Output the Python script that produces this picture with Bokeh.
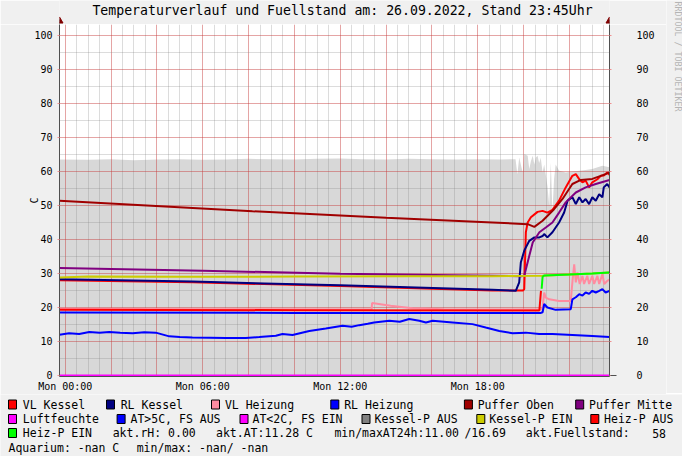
import math
from bokeh.plotting import figure
from bokeh.layouts import column, row
from bokeh.models import (Range1d, LinearAxis, SingleIntervalTicker, FixedTicker, Arrow, NormalHead)
from bokeh.core.properties import value
from bokeh.embed import file_html
from bokeh.resources import INLINE

FONT = "DejaVu Sans Mono"

title_text = "Temperaturverlauf und Fuellstand am: 26.09.2022, Stand 23:45Uhr"
x_tick_hours = [0, 6, 12, 18]
x_tick_labels = ["Mon 00:00", "Mon 06:00", "Mon 12:00", "Mon 18:00"]
y_axis_title = "C"
watermark = "RRDTOOL / TOBI OETIKER"

# time axis: hours since Mon 00:00
vl_kessel_t = [-0.25, 5.56, 12.0, 18.64, 19.98, 20.03, 20.10, 20.18, 20.32, 20.61, 20.83, 21.04, 21.26, 21.55,
               21.84, 22.13, 22.28, 22.45, 22.57, 22.71, 22.86, 23.0, 23.22, 23.37, 23.5, 23.65, 23.75]
vl_kessel = [28.0, 27.4, 26.3, 25.0, 25.0, 25.4, 42.1, 45.0, 46.5, 48.1, 48.4, 47.9, 48.7, 51.4,
             55.3, 58.7, 59.2, 57.5, 56.8, 57.3, 55.3, 56.8, 57.7, 58.7, 58.8, 59.7, 59.0]

rl_kessel_t = [-0.25, 5.56, 12.0, 18.64, 19.66, 19.81, 19.88, 20.03, 20.25, 20.47, 20.69, 20.83, 20.90, 21.04,
               21.26, 21.55, 21.77, 21.92, 22.13, 22.28, 22.43, 22.57, 22.71, 22.86, 23.0, 23.15, 23.30, 23.44,
               23.50, 23.65, 23.75]
rl_kessel = [28.3, 27.6, 26.5, 25.2, 24.9, 27.4, 33.2, 36.7, 39.6, 40.6, 40.6, 41.0, 41.6, 40.6,
             42.1, 45.0, 47.9, 51.4, 52.4, 50.4, 52.4, 50.9, 51.9, 50.4, 52.4, 51.4, 53.3, 52.4,
             55.3, 56.3, 55.3]

vl_heizung_t = [-0.25, 6.0, 13.37, 13.39, 14.2, 15.16, 16.5, 20.74, 20.83, 20.90, 20.97, 21.12, 21.55, 22.06,
                22.13, 22.21, 22.28, 22.35, 22.45, 22.57, 22.64, 22.78, 22.86, 23.0, 23.08, 23.22, 23.30, 23.44,
                23.52, 23.65, 23.75]
vl_heizung = [19.6, 19.5, 19.4, 21.3, 20.5, 19.8, 19.5, 19.4, 19.8, 24.4, 22.9, 22.4, 21.9, 21.9,
              27.4, 32.7, 27.4, 30.3, 26.9, 29.3, 26.9, 29.3, 26.9, 29.3, 26.9, 29.3, 26.9, 29.8,
              26.9, 27.8, 28.2]

rl_heizung_t = [-0.25, 10.0, 20.76, 20.83, 20.90, 21.04, 21.40, 22.06, 22.13, 22.28, 22.43, 22.57, 22.71, 22.86,
                23.0, 23.15, 23.30, 23.44, 23.58, 23.75]
rl_heizung = [18.5, 18.4, 18.4, 18.6, 21.0, 20.0, 19.3, 19.5, 22.4, 23.0, 23.9, 23.5, 24.4, 24.0,
              24.9, 24.4, 24.9, 25.4, 24.4, 24.9]

puffer_oben_t = [-0.25, 8.17, 14.0, 18.64, 20.18, 20.47, 20.83, 21.33, 21.70, 22.13, 22.50, 23.0, 23.58, 23.75]
puffer_oben = [51.4, 48.3, 46.4, 45.0, 44.5, 43.7, 45.5, 48.9, 51.9, 56.3, 57.5, 57.8, 59.2, 59.7]

puffer_mitte_t = [-0.25, 6.0, 12.0, 19.9, 20.03, 20.25, 20.40, 20.69, 20.97, 21.26, 21.55, 21.84, 22.28, 22.71,
                  23.15, 23.75]
puffer_mitte = [31.6, 30.8, 29.9, 29.2, 29.3, 35.2, 39.1, 42.1, 43.5, 45.0, 47.9, 50.9, 53.8, 55.3,
                56.3, 57.5]

luftfeuchte_t = [-0.25, 23.75]
luftfeuchte = [0.0, 0.0]

aussen_t = [-0.25, 0.17, 0.61, 1.05, 1.5, 1.92, 2.4, 2.94, 3.45, 3.95, 4.54, 5.0, 5.55, 6.3, 7.01, 7.88, 8.47,
            9.19, 9.48, 9.92, 10.65, 11.37, 12.10, 12.5, 12.83, 13.2, 13.48, 14.14, 14.6, 15.01, 15.45, 15.74,
            16.03, 16.90, 17.77, 18.35, 18.94, 19.52, 20.10, 20.68, 21.26, 22.13, 23.0, 23.75]
aussen = [12.0, 12.4, 12.2, 12.8, 12.6, 12.8, 12.6, 12.4, 12.7, 12.6, 11.5, 11.3, 11.2, 11.1, 11.0, 11.0, 11.3,
          11.7, 12.2, 11.9, 13.1, 13.8, 14.6, 14.3, 14.8, 15.2, 15.6, 16.1, 15.8, 16.6, 16.1, 15.6,
          16.1, 15.6, 15.1, 14.1, 13.1, 12.4, 12.6, 12.2, 12.2, 11.9, 11.6, 11.3]

kessel_aus_t = [-0.25, 1, 2, 3, 4, 5, 6, 7, 8, 9, 10, 11, 12, 13, 14, 15, 16, 17, 18, 19,
                19.65, 19.73, 19.81, 19.96, 20.03, 20.18, 20.25, 20.32, 20.40, 20.47, 20.53, 20.61, 20.68, 20.75,
                20.83, 20.90, 20.97, 21.04, 21.12, 21.19, 21.26, 21.33, 21.40, 21.55, 21.84, 22.13, 22.43, 22.71,
                23.0, 23.44, 23.75]
kessel_aus = [63.5, 63.4, 63.6, 63.3, 63.5, 63.6, 63.4, 63.5, 63.7, 63.6, 63.5, 63.7, 63.8, 63.6, 63.5, 63.7,
              63.6, 63.5, 63.6, 63.5,
              63.6, 59.2, 64.1, 59.7, 65.1, 64.6, 60.7, 63.0, 64.6, 62.0, 64.0, 64.6, 62.5, 64.0,
              59.7, 62.0, 59.0, 55.8, 49.9, 62.6, 47.9, 57.7, 62.0, 60.2, 59.7, 60.0, 60.2, 60.4,
              60.7, 61.7, 61.2]

kessel_ein_t = [-0.25, 1.0, 5.0, 10.0, 15.0, 18.64, 20.83, 22.0, 23.0, 23.75]
kessel_ein = [28.8, 29.1, 29.0, 29.1, 29.2, 29.2, 29.3, 29.7, 30.0, 30.3]

heiz_aus_t = [-0.25, 10.0, 20.69, 20.76]
heiz_aus = [19.3, 19.2, 19.1, 24.9]

heiz_ein_t = [20.79, 20.83, 20.90, 22.0, 23.0, 23.75]
heiz_ein = [25.5, 29.0, 29.4, 29.7, 30.0, 30.3]

legend_names = ["VL Kessel", "RL Kessel", "VL Heizung", "RL Heizung", "Puffer Oben", "Puffer Mitte",
                "Luftfeuchte", "AT>5C, FS AUS", "AT<2C, FS EIN", "Kessel-P AUS", "Kessel-P EIN", "Heiz-P AUS",
                "Heiz-P EIN"]
legend_colors = ["#ff0000", "#000080", "#ff8ca0", "#0000ff", "#a00000", "#800080",
                 "#ff00ff", "#0000ff", "#ff00ff", "#808080", "#cccc00", "#ff0000", "#00ff00"]
stats_texts = ["akt.rH: 0.00", "akt.AT:11.28 C", "min/maxAT24h:11.00", "/16.69", "akt.Fuellstand:", "58"]
aquarium_texts = ["Aquarium: -nan C", "min/max: -nan/ -nan"]

# ---------------- layout (page pixel positions) ----------------
X0, X1 = -0.25, 23.75
Y0, Y1 = -0.3, 103.2
FL, FT, FW, FH = 67, 32, 550, 352   # plot frame in page px
CHART_BOTTOM = 401                  # page y where the legend strip starts
WM_LEFT = 674                       # page x where the watermark strip starts
BG = "#f0f0f0"
AXIS_COL = "#505050"
ARROW_COL = "#800000"
BORDER_L = FL - 8
BORDER_R = (WM_LEFT - 8) - BORDER_L - FW


def DX(px):
    return X0 + (px - FL) * (X1 - X0) / FW


def DY(py):
    return Y0 + (FT + FH - py) * (Y1 - Y0) / FH


def strip(x0, x1, y0, y1, **kw):
    f = figure(output_backend="svg", toolbar_location=None,
               x_range=Range1d(x0, x1), y_range=Range1d(y1, y0),
               x_axis_location=None, y_axis_location=None, **kw)
    f.grid.visible = False
    f.outline_line_color = None
    f.background_fill_color = BG
    f.border_fill_color = BG
    return f


# ---------------- title strip (frame aligned with the chart frame) ----------------
tt = strip(FL, FL + FW, 8, FT, frame_width=FW, frame_height=FT - 8,
           min_border_left=BORDER_L, min_border_right=BORDER_R, min_border_top=0, min_border_bottom=0)
tt.text(x=[350], y=[17.5], text=[title_text], text_font=value(FONT), text_font_size="13.2px",
        text_color="#000000", text_align="center", text_baseline="middle")
# axis extensions with arrow heads above the frame
tt.segment(x0=[FL, FL + FW], y0=[FT, FT], x1=[FL, FL + FW], y1=[27, 27], line_color=AXIS_COL, line_width=1)
tt.scatter(x=[FL, FL + FW], y=[28.5, 28.5], marker="triangle", size=7,
           fill_color=ARROW_COL, line_color=ARROW_COL)

# ---------------- main chart ----------------
p = figure(frame_width=FW, frame_height=FH, output_backend="svg", toolbar_location=None,
           x_range=Range1d(X0, X1), y_range=Range1d(Y0, Y1),
           min_border_left=BORDER_L, min_border_top=0, min_border_right=BORDER_R,
           min_border_bottom=CHART_BOTTOM - (FT + FH))
p.background_fill_color = "#ffffff"
p.border_fill_color = BG
p.outline_line_color = None

# grids
p.xgrid.ticker = SingleIntervalTicker(interval=2, num_minor_ticks=4)
p.ygrid.ticker = SingleIntervalTicker(interval=10, num_minor_ticks=2)
for g in (p.xgrid[0], p.ygrid[0]):
    g.grid_line_color = "#ff0000"
    g.grid_line_alpha = 0.25
    g.minor_grid_line_color = "#808080"
    g.minor_grid_line_alpha = 0.28

# x axis
xa = p.xaxis[0]
xa.ticker = FixedTicker(ticks=x_tick_hours, minor_ticks=[])
xa.major_label_overrides = {h: lab for h, lab in zip(x_tick_hours, x_tick_labels)}
xa.major_tick_out = 0
xa.major_tick_in = 0
xa.major_label_standoff = 4
xa.axis_line_color = AXIS_COL

# y axes
ya = p.yaxis[0]
ra = LinearAxis()
p.add_layout(ra, "right")
for a, so in ((ya, 5), (ra, 25)):
    a.ticker = SingleIntervalTicker(interval=10, num_minor_ticks=0)
    a.major_tick_out = 2
    a.major_tick_in = 0
    a.minor_tick_out = 0
    a.minor_tick_in = 0
    a.major_tick_line_color = "#f09090"
    a.major_label_standoff = so
    a.axis_line_color = AXIS_COL
for a in (xa, ya, ra):
    a.major_label_text_font = FONT
    a.major_label_text_font_size = "10px"
    a.major_label_text_color = "#000000"
ya.axis_label = y_axis_title
ya.axis_label_text_font = FONT
ya.axis_label_text_font_size = "10px"
ya.axis_label_text_font_style = "normal"
ya.axis_label_text_color = "#000000"
ya.axis_label_standoff = -9

# data
p.varea(x=kessel_aus_t, y1=[Y0] * len(kessel_aus_t), y2=kessel_aus, fill_color="#d8d8d8", level="image")
series = [
    (vl_kessel_t, vl_kessel, legend_colors[0]),
    (rl_kessel_t, rl_kessel, legend_colors[1]),
    (vl_heizung_t, vl_heizung, legend_colors[2]),
    (rl_heizung_t, rl_heizung, legend_colors[3]),
    (puffer_oben_t, puffer_oben, legend_colors[4]),
    (puffer_mitte_t, puffer_mitte, legend_colors[5]),
    (aussen_t, aussen, legend_colors[7]),
    (kessel_ein_t, kessel_ein, legend_colors[10]),
    (heiz_aus_t, heiz_aus, legend_colors[11]),
    (heiz_ein_t, heiz_ein, legend_colors[12]),
    (luftfeuchte_t, luftfeuchte, legend_colors[6]),
]
for t, v, c in series:
    p.line(t, v, line_color=c, line_width=2)

# arrow at the end of the time axis
p.add_layout(Arrow(x_start=DX(FL + FW), y_start=DY(FT + FH - 1), x_end=DX(FL + FW + 7), y_end=DY(FT + FH - 1),
                   end=NormalHead(size=6, fill_color=ARROW_COL, line_color=ARROW_COL), line_color=AXIS_COL))

# ---------------- watermark strip ----------------
wm = strip(WM_LEFT, 690, 8, CHART_BOTTOM, width=690 - WM_LEFT, height=CHART_BOTTOM - 8, min_border=0)
wm.text(x=[685.5], y=[9], text=[watermark], text_font=value(FONT), text_font_size="8.3px",
        text_color="#b4b4b4", text_align="left", text_baseline="middle", angle=-math.pi / 2)

# ---------------- legend strip ----------------
lg = strip(8, 690, CHART_BOTTOM, 463, width=682, height=463 - CHART_BOTTOM, min_border=0)

row_y = [411, 425.5, 439.5, 454]
legend_pos = [(16, 30.3, 0), (114, 128.2, 0), (219, 232.4, 0), (338.3, 351.7, 0), (471.9, 485.2, 0),
              (583.2, 596.5, 0),
              (16, 30.3, 1), (124.6, 138, 1), (247.5, 260, 1), (369.5, 382, 1), (484.3, 496.8, 1),
              (598.3, 611.6, 1),
              (16, 30.3, 2)]
sq_x = [sq + 4 for sq, tx, r in legend_pos]
sq_y = [row_y[r] for sq, tx, r in legend_pos]
lg.rect(x=sq_x, y=sq_y, width=8, height=9, fill_color=legend_colors, line_color="#000000", line_width=1)

txt_x = [tx for sq, tx, r in legend_pos]
txt_y = list(sq_y)
txt = list(legend_names)
stats_x = [120.2, 223.5, 341.9, 471.9, 533.3, 659.7]
txt_x += stats_x
txt_y += [row_y[2]] * len(stats_x)
txt += stats_texts
aquarium_x = [16, 144.2]
txt_x += aquarium_x
txt_y += [row_y[3]] * len(aquarium_x)
txt += aquarium_texts
lg.text(x=txt_x, y=txt_y, text=txt, text_font=value(FONT), text_font_size="11.5px",
        text_color="#000000", text_align="left", text_baseline="middle")

layout = column(row(column(tt, p, spacing=0), wm, spacing=0), lg, spacing=0)

html = file_html(layout, INLINE)
html = html.replace("<body>", '<body style="background-color:#f0f0f0;">', 1)
open("out.html", "w").write(html)
